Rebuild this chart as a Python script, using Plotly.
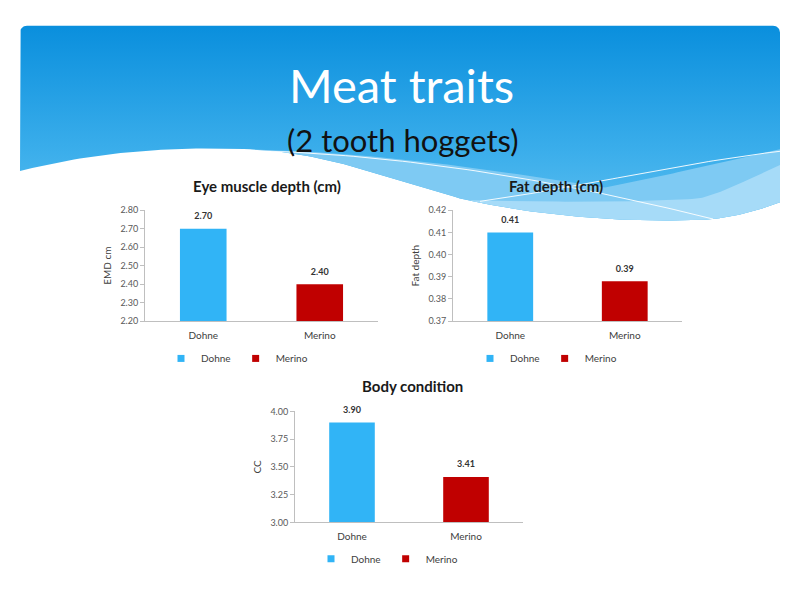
import numpy as np
import plotly.graph_objects as go

# ---------------- data ----------------
breeds = ["Dohne", "Merino"]
breed_colors = ["#31B4F6", "#C00000"]

emd_values = [2.70, 2.40]      # Eye muscle depth (cm)
fat_values = [0.41, 0.388]     # Fat depth (cm)
cc_values = [3.90, 3.41]       # Body condition

emd_ticks = [2.20, 2.30, 2.40, 2.50, 2.60, 2.70, 2.80]
fat_ticks = [0.37, 0.38, 0.39, 0.40, 0.41, 0.42]
cc_ticks = [3.00, 3.25, 3.50, 3.75, 4.00]

chart_titles = ["Eye muscle depth (cm)", "Fat depth (cm)", "Body condition"]
y_titles = ["EMD cm", "Fat depth", "CC"]
slide_title = "Meat traits"
slide_subtitle = "(2 tooth hoggets)"

FONT = "Lato, 'Open Sans', sans-serif"

fig = go.Figure()

# ---------------- decorative slide header (background axes in px) ----------------
def bez(p0, p1, p2, p3, n=40):
    t = np.linspace(0, 1, n)[:, None]
    p0, p1, p2, p3 = map(np.array, (p0, p1, p2, p3))
    pts = (1 - t) ** 3 * p0 + 3 * (1 - t) ** 2 * t * p1 + 3 * (1 - t) * t ** 2 * p2 + t ** 3 * p3
    return pts[:, 0], pts[:, 1]

def path(segs):
    xs, ys = [], []
    for s in segs:
        x, y = bez(*s)
        xs.extend(x); ys.extend(y)
    return np.array(xs), np.array(ys)

# white wave boundary
wx, wy = path([
    ((20, 168), (100, 148), (170, 143), (250, 146)),
    ((250, 146), (320, 149), (380, 172), (460, 196)),
    ((460, 196), (540, 215), (640, 222), (713, 217)),
    ((713, 217), (740, 214), (765, 206), (780, 200)),
])

# rounded top of header box
r = 7
a1 = np.linspace(np.pi, 1.5 * np.pi, 12)
a2 = np.linspace(1.5 * np.pi, 2 * np.pi, 12)
top_x = np.concatenate([20 + r + r * np.cos(a1), 780 - r + r * np.cos(a2)])
top_y = np.concatenate([20 + r + r * np.sin(a1), 20 + r + r * np.sin(a2)])
hx = np.concatenate([[20], top_x, [780], wx[::-1]])
hy = np.concatenate([[168], top_y, [200], wy[::-1]])
fig.add_trace(go.Scatter(
    x=hx, y=hy, mode="lines", fill="toself", line=dict(width=0),
    fillgradient=dict(type="vertical", colorscale=[[0, "#0A8FDD"], [0.6, "#3BAEEB"], [1, "#62C2F1"]],
                      start=20, stop=230),
    hoverinfo="skip", showlegend=False, xaxis="x", yaxis="y"))

def band(top_segs, x_start, color):
    tx, ty = path(top_segs)
    m = wx >= x_start
    bx = np.concatenate([tx, wx[m][::-1]])
    by = np.concatenate([ty, wy[m][::-1]])
    fig.add_trace(go.Scatter(x=bx, y=by, mode="lines", fill="toself", line=dict(width=0),
                             fillcolor=color, hoverinfo="skip", showlegend=False,
                             xaxis="x", yaxis="y"))

band([((250, 146), (400, 150), (520, 172), (605, 185)),
      ((605, 185), (670, 172), (730, 157), (780, 146))], 250, "#7ECAF3")
band([((470, 198), (560, 200), (650, 200), (700, 196)),
      ((700, 196), (730, 188), (760, 170), (780, 162))], 470, "#A6DBF8")

for seg in [((240, 147), (400, 150), (560, 178), (713, 217)),
            ((480, 199), (580, 185), (680, 160), (780, 148))]:
    lx, ly = bez(*seg, n=60)
    fig.add_trace(go.Scatter(x=lx, y=ly, mode="lines", line=dict(color="rgba(255,255,255,0.9)", width=1),
                             hoverinfo="skip", showlegend=False, xaxis="x", yaxis="y"))

# ---------------- charts ----------------
charts = [
    dict(values=emd_values, ticks=emd_ticks, fmt=".2f"),
    dict(values=fat_values, ticks=fat_ticks, fmt=".2f"),
    dict(values=cc_values, ticks=cc_ticks, fmt=".2f"),
]
boxes = [(145, 378, 208, 321), (453, 682, 208, 321), (295, 523, 413, 526)]
legend_pos = [(237, 359), (546, 359), (387, 563)]
title_pos = [(267, 183), (556, 183), (412, 387)]
legend_names = ["legend", "legend2", "legend3"]

layout_axes = {}
for i, spec in enumerate(charts):
    n = i + 2
    xa, ya = f"x{n}", f"y{n}"
    fig.add_trace(go.Bar(x=breeds, y=spec["values"], marker=dict(color=breed_colors, line_width=0),
                         width=0.4, showlegend=False, hoverinfo="skip", xaxis=xa, yaxis=ya))
    fig.add_trace(go.Scatter(x=breeds, y=spec["values"], mode="markers+text",
                             marker=dict(size=10, color="rgba(0,0,0,0)"),
                             text=[f"{v:{spec['fmt']}}" for v in spec["values"]],
                             textposition="top center", cliponaxis=False,
                             textfont=dict(size=9, color="#333333", family=FONT, weight="bold"),
                             showlegend=False, hoverinfo="skip", xaxis=xa, yaxis=ya))
    for b, c in zip(breeds, breed_colors):
        fig.add_trace(go.Scatter(x=[None], y=[None], mode="markers", name=b,
                                 marker=dict(symbol="square", size=7, color=c),
                                 legend=legend_names[i], xaxis=xa, yaxis=ya))
    x0, x1, y0, y1 = boxes[i]
    t = spec["ticks"]
    layout_axes[f"xaxis{n}"] = dict(
        domain=[x0 / 800, x1 / 800], anchor=ya, type="category", range=[-0.5, 1.5],
        showline=True, linecolor="#BFBFBF", linewidth=1, ticks="", showgrid=False, zeroline=False,
        ticklabelstandoff=5,
        tickfont=dict(size=10, color="#404040", family=FONT), fixedrange=True)
    layout_axes[f"yaxis{n}"] = dict(
        domain=[1 - y1 / 600, 1 - y0 / 600], anchor=xa, range=[t[0], t[-1]],
        tickvals=t, tickformat=".2f", showline=True, linecolor="#BFBFBF", linewidth=1,
        ticks="outside", ticklen=4, tickcolor="#BFBFBF", showgrid=False, zeroline=False,
        tickfont=dict(size=9, color="#595959", family=FONT),
        title=dict(text=y_titles[i], font=dict(size=10, color="#404040", family=FONT), standoff=6),
        fixedrange=True)
    lx_, ly_ = legend_pos[i]
    layout_axes[legend_names[i]] = dict(
        orientation="h", x=lx_ / 800, y=1 - ly_ / 600, xanchor="center", yanchor="middle",
        font=dict(size=10, color="#404040", family=FONT), bgcolor="rgba(0,0,0,0)",
        itemwidth=30, tracegroupgap=0)

annotations = []
for i, (tx, ty) in enumerate(title_pos):
    annotations.append(dict(text=f"<b>{chart_titles[i]}</b>", x=tx, y=ty, xref="x", yref="y",
                            showarrow=False, font=dict(size=15, color="#1a1a1a", family=FONT)))
annotations.append(dict(text=slide_title, x=401, y=80, xref="x", yref="y", showarrow=False,
                        font=dict(size=47, color="white", family=FONT)))
annotations.append(dict(text=slide_subtitle, x=403, y=137, xref="x", yref="y", showarrow=False,
                        font=dict(size=31, color="#111111", family=FONT)))

fig.update_layout(
    width=800, height=600, margin=dict(l=0, r=0, t=0, b=0),
    paper_bgcolor="white", plot_bgcolor="rgba(0,0,0,0)",
    font=dict(family=FONT),
    xaxis=dict(domain=[0, 1], range=[0, 800], visible=False, fixedrange=True),
    yaxis=dict(domain=[0, 1], range=[600, 0], visible=False, fixedrange=True),
    annotations=annotations,
    **layout_axes,
)

fig.write_html("out.html")
